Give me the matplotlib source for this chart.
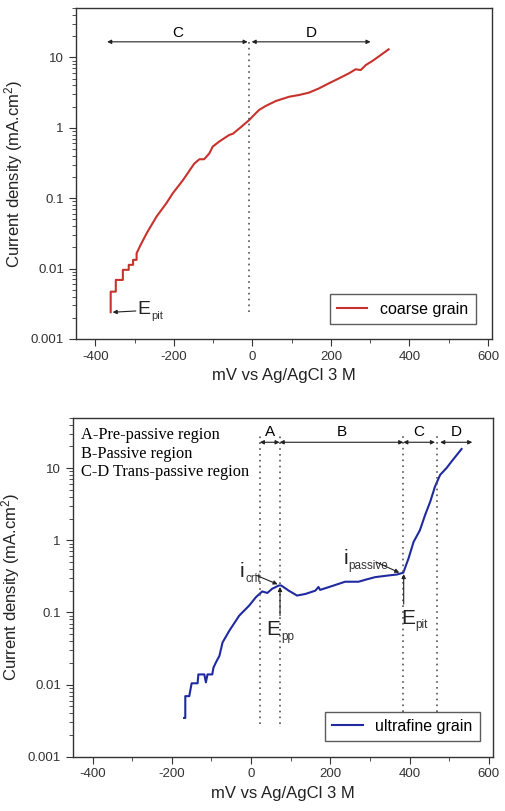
import matplotlib
matplotlib.use("Agg")
import matplotlib.pyplot as plt
from matplotlib.ticker import MultipleLocator, LogLocator, FixedLocator

plt.rcParams['font.family'] = ['Liberation Sans', 'DejaVu Sans']
plt.rcParams['mathtext.fontset'] = 'custom'
plt.rcParams['mathtext.rm'] = 'Liberation Sans'
plt.rcParams['mathtext.it'] = 'Liberation Sans'
plt.rcParams['axes.unicode_minus'] = False

# ---------------------------
# DATA
# ---------------------------
coarse_mv = [-361, -361, -348, -348, -330, -330, -315, -315, -304, -304, -295, -295,
             -286, -269, -244, -219, -203, -177, -148, -135, -123, -110, -101, -84,
             -59, -50, -33, -8, 0, 17, 34, 60, 94, 119, 144, 170, 195, 221, 246,
             263, 276, 289, 306, 323, 347]
coarse_i = [0.0024, 0.0047, 0.0047, 0.0069, 0.0069, 0.0096, 0.0096, 0.0113, 0.0113, 0.0133,
            0.0133, 0.0165, 0.021, 0.032, 0.055, 0.085, 0.117, 0.18, 0.31, 0.357, 0.357,
            0.43, 0.54, 0.64, 0.79, 0.82, 0.98, 1.29, 1.44, 1.79, 2.04, 2.4, 2.76, 2.92,
            3.15, 3.63, 4.28, 5.04, 5.93, 6.76, 6.6, 7.78, 8.9, 10.4, 13.0]

fine_mv = [-169, -166, -166, -156, -150, -135, -133, -118, -114, -110, -98, -95, -89,
           -80, -72, -55, -30, -5, 12, 28, 41, 53, 70, 76, 95, 116, 137, 162, 170, 174,
           196, 229, 237, 271, 288, 313, 347, 368, 384, 397, 410, 426, 439, 452, 464,
           477, 493, 506, 531]
fine_i = [0.00344, 0.00344, 0.0069, 0.0069, 0.0104, 0.0104, 0.0138, 0.0138, 0.0107, 0.0138,
          0.0138, 0.0171, 0.0201, 0.0249, 0.0383, 0.0556, 0.09, 0.124, 0.162, 0.195, 0.186,
          0.212, 0.236, 0.236, 0.2, 0.171, 0.18, 0.2, 0.225, 0.205, 0.224, 0.257, 0.266,
          0.266, 0.283, 0.308, 0.325, 0.335, 0.355, 0.556, 0.95, 1.38, 2.24, 3.43, 5.55,
          8.07, 10.0, 12.4, 18.4]

coarse_regions = [("C", -370, -12), ("D", -2, 301)]
coarse_divider = -8
fine_regions = [("A", 22, 72), ("B", 72, 384), ("C", 384, 464), ("D", 477, 558)]
fine_dividers = [22, 72, 384, 470]
region_notes = ["A-Pre-passive region", "B-Passive region", "C-D Trans-passive region"]

XLABEL = "mV vs Ag/AgCl 3 M"
YLABEL = "Current density (mA.cm$^2$)"

ARROW = dict(arrowstyle="-|>", color="#222222", lw=0.8, mutation_scale=6,
             shrinkA=0, shrinkB=0)


def style_axes(ax):
    ax.set_xlim(-450, 610)
    ax.set_yscale("log")
    ax.set_ylim(0.001, 50)
    ax.xaxis.set_major_locator(MultipleLocator(200))
    ax.xaxis.set_minor_locator(MultipleLocator(100))
    ax.yaxis.set_major_locator(FixedLocator([0.001, 0.01, 0.1, 1, 10]))
    ax.yaxis.set_minor_locator(LogLocator(base=10, subs=range(2, 10)))
    ax.set_yticklabels(["0.001", "0.01", "0.1", "1", "10"])
    ax.tick_params(which="both", direction="out", top=False, right=False,
                   labelsize=9.5, colors="#333333")
    ax.tick_params(which="major", length=5)
    ax.tick_params(which="minor", length=3)
    for s in ax.spines.values():
        s.set_color("#333333")
        s.set_linewidth(1.0)
    ax.set_xlabel(XLABEL, fontsize=12, color="#222222")
    ax.set_ylabel(YLABEL, fontsize=12, color="#222222")


def region_arrows(ax, regions, y_arrow, y_text):
    for lab, x0, x1 in regions:
        ax.annotate("", xy=(x1, y_arrow), xytext=(x0, y_arrow),
                    arrowprops=dict(arrowstyle="<|-|>", color="#222222", lw=0.8,
                                    mutation_scale=6, shrinkA=0, shrinkB=0))
        ax.text((x0 + x1) / 2, y_text, lab, ha="center", va="center", fontsize=11)


def sub_label(ax, x, y, main, sub, size=15, subsize=8.5):
    # big letter with a small, low subscript, like the original figure
    t = ax.text(x, y, main, fontsize=size, ha="left", va="center", color="#222222")
    ax.annotate(sub, xy=(1, 0.12), xycoords=t, xytext=(0.5, 0), textcoords="offset points",
                fontsize=subsize, ha="left", va="center", color="#333333")
    return t


fig = plt.figure(figsize=(5.05, 8.11), dpi=100)

# ---- top: coarse grain ----
ax1 = fig.add_axes([0.150, 0.582, 0.824, 0.408])
ax1.plot(coarse_mv, coarse_i, color="#c8322c", lw=1.5, label="coarse grain")
ax1.plot([coarse_divider, coarse_divider], [0.0024, 17.6], color="#555555", lw=1.2,
         ls=(0, (1, 2.5)))
region_arrows(ax1, coarse_regions, 16.6, 22.5)
ax1.annotate("", xy=(-356, 0.0024), xytext=(-297, 0.0025), arrowprops=ARROW)
sub_label(ax1, -293, 0.0026, "E", "pit", size=14, subsize=8)
style_axes(ax1)
ax1.legend(loc="lower right", fontsize=11.5, frameon=True, fancybox=False,
           edgecolor="#333333", handlelength=1.9, borderpad=0.45,
           bbox_to_anchor=(0.98, 0.022))

# ---- bottom: ultrafine grain ----
ax2 = fig.add_axes([0.144, 0.067, 0.832, 0.418])
ax2.plot(fine_mv, fine_i, color="#1f2aa0", lw=1.5, label="ultrafine grain")
for xd, ybot in zip(fine_dividers, [0.0028, 0.0028, 0.0041, 0.0041]):
    ax2.plot([xd, xd], [ybot, 30.8], color="#555555", lw=1.2, ls=(0, (1, 2.5)))
region_arrows(ax2, fine_regions, 22.8, 31.5)
ax2.text(-428, 37, "\n".join(region_notes), family=["Liberation Serif"],
         fontsize=11.8, va="top", ha="left", linespacing=1.22)

sub_label(ax2, -28, 0.37, "i", "crit", size=15)
ax2.annotate("", xy=(67, 0.245), xytext=(11, 0.33), arrowprops=ARROW)
sub_label(ax2, 233, 0.56, "i", "passive", size=15)
ax2.annotate("", xy=(374, 0.355), xytext=(315, 0.5), arrowprops=ARROW)
ax2.annotate("", xy=(73, 0.225), xytext=(73, 0.09), arrowprops=ARROW)
sub_label(ax2, 38, 0.058, "E", "pp", size=15)
ax2.annotate("", xy=(385, 0.34), xytext=(385, 0.13), arrowprops=ARROW)
sub_label(ax2, 378, 0.083, "E", "pit", size=15)
style_axes(ax2)
ax2.legend(loc="lower right", fontsize=11.5, frameon=True, fancybox=False,
           edgecolor="#333333", handlelength=1.9, borderpad=0.45,
           bbox_to_anchor=(0.988, 0.022))

fig.savefig("out.png", dpi=100)
